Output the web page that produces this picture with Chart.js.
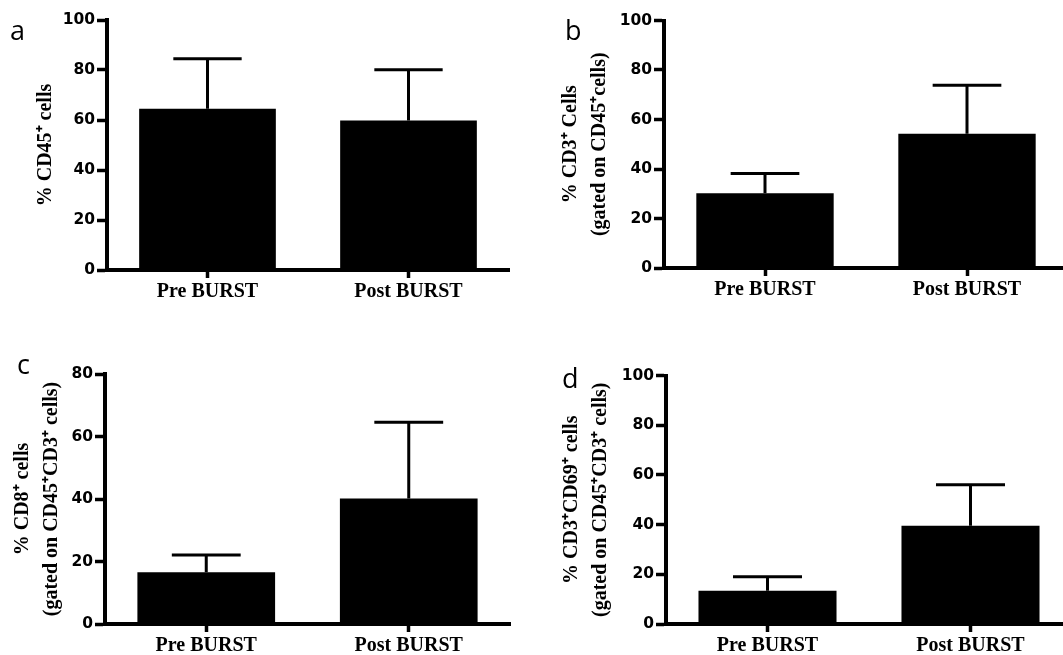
<!DOCTYPE html>
<html>
<head>
<meta charset="utf-8">
<script src="https://cdn.jsdelivr.net/npm/chart.js"></script>
<style>
  html, body { margin: 0; padding: 0; background: #fff; overflow: hidden; }
  #figure { position: relative; width: 1063px; height: 655px; overflow: hidden; }
  .panel { position: absolute; }
</style>
</head>
<body>
<div id="figure">
  <div class="panel" style="left:0px;top:0px;width:531px;height:320px"><canvas id="chartA"></canvas></div>
  <div class="panel" style="left:531px;top:0px;width:545px;height:320px"><canvas id="chartB"></canvas></div>
  <div class="panel" style="left:0px;top:320px;width:531px;height:335px"><canvas id="chartC"></canvas></div>
  <div class="panel" style="left:531px;top:320px;width:545px;height:335px"><canvas id="chartD"></canvas></div>
</div>
<script>
// categories + values (mean and upper SD)
const categories = ["Pre BURST", "Post BURST"];

const cd45Mean = [64.5, 59.8];
const cd45Sd = [20.0, 20.3];

const cd3Mean = [30.2, 54.2];
const cd3Sd = [8.0, 19.6];

const cd8Mean = [16.6, 40.2];
const cd8Sd = [5.5, 24.4];

const cd69Mean = [13.4, 39.5];
const cd69Sd = [5.6, 16.5];

// axis ranges
const yMaxA = 100, yMaxB = 100, yMaxC = 80, yMaxD = 100;
const yStep = 20;

const titleA = "% CD45\u207A cells";
const titleB = ["% CD3\u207A Cells", "(gated on CD45\u207Acells)"];
const titleC = ["% CD8\u207A cells", "(gated on CD45\u207ACD3\u207A cells)"];
const titleD = ["% CD3\u207ACD69\u207A cells", "(gated on CD45\u207ACD3\u207A cells)"];

// draws the upward SD whisker with a cap half as wide as the bar
const errorBars = {
  id: "errorBars",
  afterDatasetsDraw(chart) {
    const ds = chart.data.datasets[0];
    const meta = chart.getDatasetMeta(0);
    const y = chart.scales.y;
    const ctx = chart.ctx;
    ctx.save();
    ctx.strokeStyle = "#000";
    ctx.lineWidth = 3;
    meta.data.forEach((bar, i) => {
      const top = y.getPixelForValue(ds.data[i] + ds.errors[i]);
      const half = bar.width / 4;
      ctx.beginPath();
      ctx.moveTo(bar.x, bar.y);
      ctx.lineTo(bar.x, top);
      ctx.moveTo(bar.x - half, top);
      ctx.lineTo(bar.x + half, top);
      ctx.stroke();
    });
    ctx.restore();
  }
};

// panel letter (a, b, c, d)
const panelLetter = {
  id: "panelLetter",
  afterDraw(chart, args, opts) {
    const ctx = chart.ctx;
    ctx.save();
    ctx.fillStyle = "#000";
    ctx.font = "27px 'Open Sans'";
    ctx.textBaseline = "alphabetic";
    ctx.fillText(opts.text, opts.x, opts.y);
    ctx.restore();
  }
};

function makePanel(id, mean, sd, yMax, title, box, letter) {
  const ctx = document.getElementById(id).getContext("2d");
  return new Chart(ctx, {
    type: "bar",
    data: {
      labels: categories,
      datasets: [{
        data: mean,
        errors: sd,
        backgroundColor: "#000",
        borderWidth: 0,
        barPercentage: 0.68,
        categoryPercentage: 1.0
      }]
    },
    options: {
      responsive: true,
      maintainAspectRatio: false,
      animation: false,
      layout: { padding: { left: 0, top: box.top, right: box.right, bottom: 0 } },
      plugins: {
        legend: { display: false },
        tooltip: { enabled: false },
        panelLetter: letter
      },
      scales: {
        x: {
          offset: true,
          border: { display: true, color: "#000", width: 4 },
          grid: { display: true, offset: false, drawOnChartArea: false, drawTicks: true, tickLength: 8, tickWidth: 3.5, tickColor: "#000" },
          ticks: {
            color: "#000",
            padding: 2,
            maxRotation: 0,
            autoSkip: false,
            font: { family: "'Liberation Serif', 'Times New Roman', serif", weight: "bold", size: 20 }
          },
          afterFit: s => { s.height = box.xHeight; }
        },
        y: {
          min: 0,
          max: yMax,
          border: { display: true, color: "#000", width: 4 },
          grid: { display: true, drawOnChartArea: false, drawTicks: true, tickLength: 10, tickWidth: 3.5, tickColor: "#000" },
          ticks: {
            stepSize: yStep,
            color: "#000",
            padding: 2,
            font: { family: "'DejaVu Sans', sans-serif", weight: "bold", size: 15.5 }
          },
          title: {
            display: true,
            text: title,
            color: "#000",
            padding: { top: box.titlePad, bottom: 0 },
            font: { family: "'Liberation Serif', 'Times New Roman', serif", weight: "bold", size: 20, lineHeight: 1.45 }
          },
          afterFit: s => { s.width = box.left; }
        }
      }
    },
    plugins: [errorBars, panelLetter]
  });
}

makePanel("chartA", cd45Mean, cd45Sd, yMaxA, titleA,
  { left: 107, top: 20, right: 22, xHeight: 50, titlePad: 31.5 },
  { text: "a", x: 10, y: 40 });

makePanel("chartB", cd3Mean, cd3Sd, yMaxB, titleB,
  { left: 133, top: 20.5, right: 8, xHeight: 52, titlePad: 25.5 },
  { text: "b", x: 34, y: 40 });

makePanel("chartC", cd8Mean, cd8Sd, yMaxC, titleC,
  { left: 105, top: 54, right: 21, xHeight: 31, titlePad: 8.5 },
  { text: "c", x: 17, y: 54 });

makePanel("chartD", cd69Mean, cd69Sd, yMaxD, titleD,
  { left: 135, top: 55.5, right: 4, xHeight: 31, titlePad: 26.5 },
  { text: "d", x: 31, y: 68 });
</script>
</body>
</html>
